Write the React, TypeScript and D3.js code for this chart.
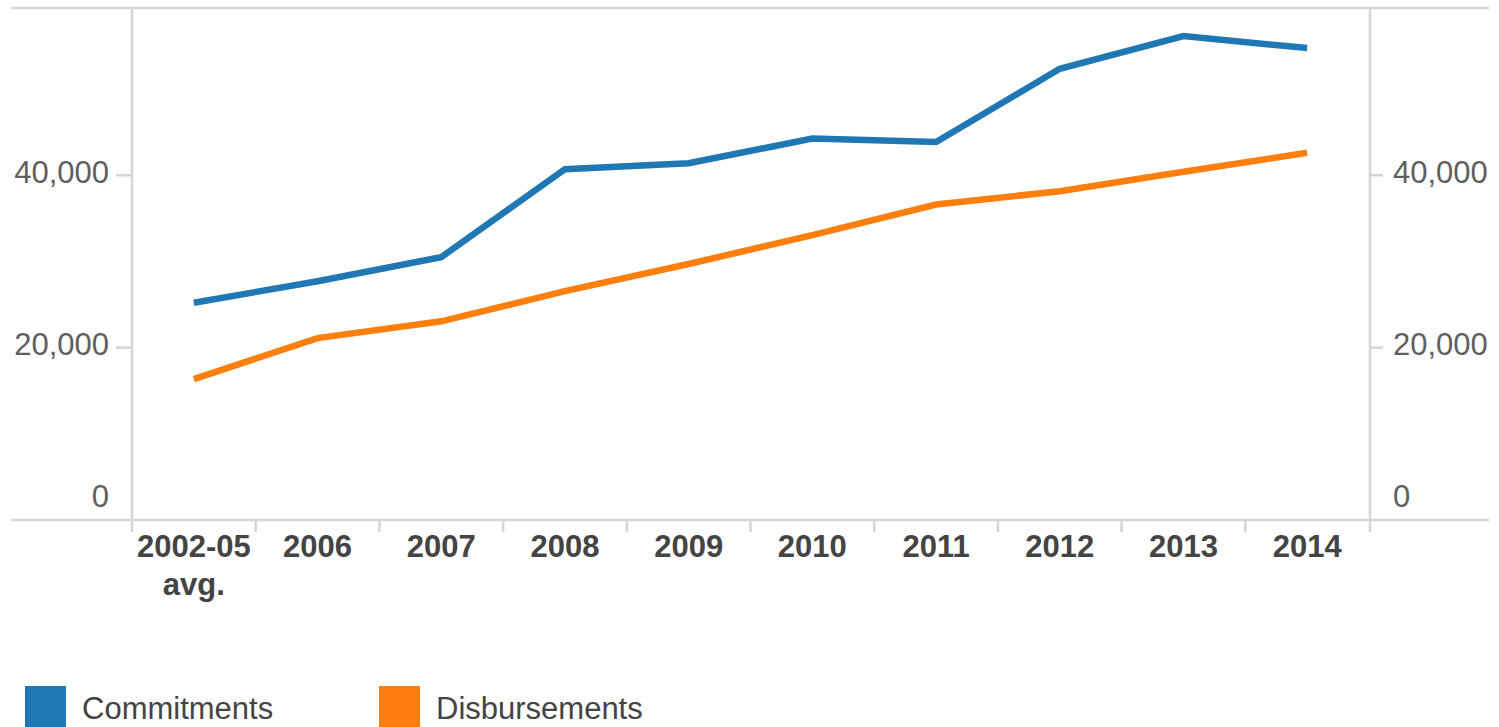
import React from "react";
import * as d3 from "d3";

const categories = ["2002-05 avg.", "2006", "2007", "2008", "2009", "2010", "2011", "2012", "2013", "2014"];
const categoryLines = [["2002-05", "avg."], ["2006"], ["2007"], ["2008"], ["2009"], ["2010"], ["2011"], ["2012"], ["2013"], ["2014"]];
const commitments = [25200, 27700, 30500, 40700, 41400, 44250, 43850, 52350, 56150, 54750];
const disbursements = [16350, 21100, 23050, 26550, 29700, 33050, 36600, 38150, 40400, 42600];
const yTicks = [0, 20000, 40000];
const seriesNames = ["Commitments", "Disbursements"];
const seriesColors = ["#1f77b4", "#ff7f0e"];

const W = 1499;
const H = 727;
const FONT = "'Liberation Sans', Arial, sans-serif";
const AXIS = "#d6d6d6";

export default function App() {
  const x = d3.scaleBand<string>().domain(categories).range([132, 1369]);
  const y = d3.scaleLinear().domain([0, 59400]).range([520, 8]);
  const bw = x.bandwidth();
  const cx = (c: string) => (x(c) as number) + bw / 2;
  const fmt = d3.format(",");

  const line = d3
    .line<number>()
    .x((_, i) => cx(categories[i]))
    .y((v) => y(v));

  const series = [commitments, disbursements];
  const left = 132;
  const right = 1370;
  const bottom = y(0);
  const top = 8;

  return (
    <svg
      width={W}
      height={H}
      style={{ position: "absolute", left: 0, top: 0, background: "#fff" }}
      fontFamily={FONT}
    >
      {/* frame */}
      <line x1={11} x2={1489} y1={top} y2={top} stroke={AXIS} strokeWidth={2.6} />
      <line x1={11} x2={1489} y1={bottom} y2={bottom} stroke={AXIS} strokeWidth={2.6} />
      <line x1={left} x2={left} y1={top} y2={bottom + 12} stroke={AXIS} strokeWidth={2.6} />
      <line x1={right} x2={right} y1={top} y2={bottom + 12} stroke={AXIS} strokeWidth={2.6} />

      {/* y ticks */}
      {yTicks.map((t) => (
        <g key={t}>
          {t !== 0 && (
            <>
              <line x1={116} x2={left} y1={y(t)} y2={y(t)} stroke={AXIS} strokeWidth={2.6} />
              <line x1={right} x2={1383} y1={y(t)} y2={y(t)} stroke={AXIS} strokeWidth={2.6} />
            </>
          )}
          <text
            x={109}
            y={t === 0 ? y(t) - 13 : y(t) + 7.5}
            textAnchor="end"
            fontSize={31}
            fill="#5f5f5f"
          >
            {fmt(t)}
          </text>
          <text
            x={1393}
            y={t === 0 ? y(t) - 13 : y(t) + 7.5}
            textAnchor="start"
            fontSize={31}
            fill="#5f5f5f"
          >
            {fmt(t)}
          </text>
        </g>
      ))}

      {/* x ticks */}
      {categories.slice(1).map((c) => (
        <line
          key={c}
          x1={x(c) as number}
          x2={x(c) as number}
          y1={bottom}
          y2={bottom + 12}
          stroke={AXIS}
          strokeWidth={2.6}
        />
      ))}
      {categories.map((c, i) => (
        <text
          key={c}
          x={cx(c)}
          y={557}
          textAnchor="middle"
          fontSize={31}
          fontWeight="bold"
          fill="#444"
        >
          {categoryLines[i].map((s, j) => (
            <tspan key={j} x={cx(c)} dy={j === 0 ? 0 : 38}>
              {s}
            </tspan>
          ))}
        </text>
      ))}

      {/* lines */}
      {series.map((s, i) => (
        <path
          key={i}
          d={line(s) as string}
          fill="none"
          stroke={seriesColors[i]}
          strokeWidth={6.5}
          strokeLinejoin="miter"
        />
      ))}

      {/* legend */}
      {seriesNames.map((n, i) => {
        const lx = i === 0 ? 25 : 379;
        return (
          <g key={n}>
            <rect x={lx} y={686} width={41} height={41} fill={seriesColors[i]} />
            <text x={lx + 57} y={719} fontSize={31} fill="#444">
              {n}
            </text>
          </g>
        );
      })}
    </svg>
  );
}
